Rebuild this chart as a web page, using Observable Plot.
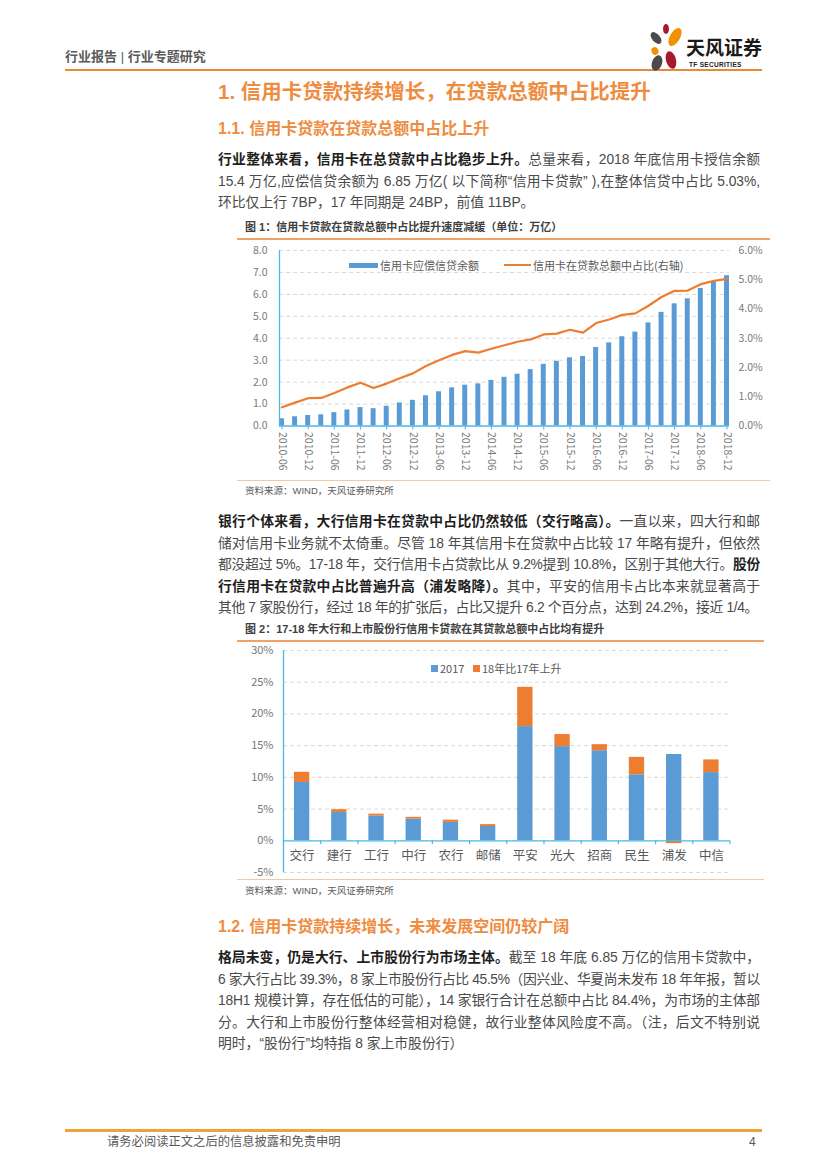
<!DOCTYPE html>
<html><head><meta charset="utf-8">
<script src="https://cdn.jsdelivr.net/npm/d3@7"></script>
<script src="https://cdn.jsdelivr.net/npm/@observablehq/plot@0.6"></script>
<style>
html,body{margin:0;padding:0;background:#fff;}
#page{position:relative;width:827px;height:1169px;overflow:hidden;font-family:"Liberation Sans","Noto Sans CJK SC",sans-serif;color:#4a4a4a;}
.abs{position:absolute;white-space:nowrap;}
.line{position:absolute;left:218px;width:542px;font-size:13.8px;line-height:20px;height:20px;text-align:justify;text-align-last:justify;}
.line.last{text-align:left;text-align-last:left;}
.line b{color:#1e1e1e;font-weight:bold;}
.h1{left:218px;font-size:20.5px;font-weight:bold;color:#EE8C3F;line-height:26px;}
.h2{left:218px;font-size:16px;font-weight:bold;color:#EE8C3F;line-height:22px;}
.cap{left:245px;font-size:11px;font-weight:bold;color:#404040;line-height:14px;}
.src{left:245px;font-size:9.5px;color:#595959;line-height:12px;}
.rule{position:absolute;}
.leg{font-size:11px;color:#595959;line-height:14px;font-family:"Noto Sans CJK SC",sans-serif;}
</style></head>
<body><div id="page">
  <div class="abs" style="left:65px;top:49px;font-size:13px;font-weight:bold;color:#5a5a5a;line-height:16px;">行业报告 <span style="font-weight:normal">|</span> 行业专题研究</div>
  <div class="rule" style="left:65px;top:69px;width:697px;height:2px;background:#E8893A;"></div>
  <svg class="abs" style="left:648px;top:24px" width="36" height="48" viewBox="0 0 36 48">
    <ellipse cx="18" cy="5" rx="3" ry="5" fill="#A8192E"/>
    <ellipse cx="27" cy="13" rx="5" ry="10" fill="#F39200" transform="rotate(30 27 13)"/>
    <ellipse cx="8" cy="14" rx="4" ry="7" fill="#4a4a4a" transform="rotate(-40 8 14)"/>
    <ellipse cx="7" cy="27" rx="3.5" ry="4" fill="#F39200" transform="rotate(-20 7 27)"/>
    <ellipse cx="9" cy="39" rx="5" ry="8" fill="#4a4a4a" transform="rotate(20 9 39)"/>
    <ellipse cx="23" cy="36" rx="5" ry="9" fill="#A8192E" transform="rotate(-15 23 36)"/>
  </svg>
  <div class="abs" style="left:686px;top:36px;font-size:19px;font-weight:bold;color:#1a1a1a;line-height:22px;font-family:'Noto Sans CJK SC',sans-serif;">天风证券</div>
  <div class="abs" style="left:689px;top:61px;font-size:6.5px;font-weight:bold;color:#222;line-height:8px;letter-spacing:0.3px;">TF SECURITIES</div>

  <div class="abs h1" style="top:79px;">1. 信用卡贷款持续增长，在贷款总额中占比提升</div>
  <div class="abs h2" style="top:118px;">1.1. 信用卡贷款在贷款总额中占比上升</div>

  <div class="line" style="top:150px"><span><b>行业整体来看，信用卡在总贷款中占比稳步上升。</b>总量来看，2018 年底信用卡授信余额</span></div>
  <div class="line" style="top:171.5px"><span>15.4 万亿,应偿信贷余额为 6.85 万亿( 以下简称“信用卡贷款” ),在整体信贷中占比 5.03%,</span></div>
  <div class="line last" style="top:193px"><span>环比仅上行 7BP，17 年同期是 24BP，前值 11BP。</span></div>

  <div class="abs cap" style="top:220px;">图 1：信用卡贷款在贷款总额中占比提升速度减缓（单位：万亿）</div>
  <div class="rule" style="left:237px;top:238px;width:533px;height:1.5px;background:#F0A266;"></div>
  <div id="chart1" class="abs" style="left:238px;top:240px;"></div>
  <div class="rule" style="left:237px;top:480px;width:533px;height:1px;background:#F6C8A2;"></div>
  <div class="abs src" style="top:485px;">资料来源：WIND，天风证券研究所</div>
  <div class="rule" style="left:349px;top:262.5px;width:29px;height:5.5px;background:#5B9BD5;"></div>
  <div class="abs leg" style="left:380px;top:258px;">信用卡应偿信贷余额</div>
  <div class="rule" style="left:504px;top:264px;width:27px;height:2px;background:#ED7D31;"></div>
  <div class="abs leg" style="left:533px;top:258px;">信用卡在贷款总额中占比(右轴)</div>

  <div class="line" style="top:512px"><span><b>银行个体来看，大行信用卡在贷款中占比仍然较低（交行略高）。</b>一直以来，四大行和邮</span></div>
  <div class="line" style="top:533.5px"><span>储对信用卡业务就不太倚重。尽管 18 年其信用卡在贷款中占比较 17 年略有提升，但依然</span></div>
  <div class="line" style="top:555px"><span>都没超过 5%。17-18 年，交行信用卡占贷款比从 9.2%提到 10.8%，区别于其他大行。<b>股份</b></span></div>
  <div class="line" style="top:576.5px"><span><b>行信用卡在贷款中占比普遍升高（浦发略降）。</b>其中，平安的信用卡占比本来就显著高于</span></div>
  <div class="line last" style="top:598px"><span>其他 7 家股份行，经过 18 年的扩张后，占比又提升 6.2 个百分点，达到 24.2%，接近 1/4。</span></div>

  <div class="abs cap" style="top:622px;">图 2：17-18 年大行和上市股份行信用卡贷款在其贷款总额中占比均有提升</div>
  <div class="rule" style="left:237px;top:640px;width:527px;height:1.5px;background:#F0A266;"></div>
  <div id="chart2" class="abs" style="left:238px;top:642px;"></div>
  <div class="rule" style="left:237px;top:879px;width:527px;height:1px;background:#F6C8A2;"></div>
  <div class="abs src" style="top:885px;">资料来源：WIND，天风证券研究所</div>
  <div class="rule" style="left:431px;top:664.5px;width:7px;height:7px;background:#5B9BD5;"></div>
  <div class="abs leg" style="left:440px;top:661px;">2017</div>
  <div class="rule" style="left:473px;top:664.5px;width:7px;height:7px;background:#ED7D31;"></div>
  <div class="abs leg" style="left:482px;top:661px;">18年比17年上升</div>

  <div class="abs h2" style="top:916px;">1.2. 信用卡贷款持续增长，未来发展空间仍较广阔</div>
  <div class="line" style="top:948px"><span><b>格局未变，仍是大行、上市股份行为市场主体。</b>截至 18 年底 6.85 万亿的信用卡贷款中，</span></div>
  <div class="line" style="top:969.5px"><span>6 家大行占比 39.3%，8 家上市股份行占比 45.5%（因兴业、华夏尚未发布 18 年年报，暂以</span></div>
  <div class="line" style="top:991px"><span>18H1 规模计算，存在低估的可能），14 家银行合计在总额中占比 84.4%，为市场的主体部</span></div>
  <div class="line" style="top:1012.5px"><span>分。大行和上市股份行整体经营相对稳健，故行业整体风险度不高。（注，后文不特别说</span></div>
  <div class="line last" style="top:1034px"><span>明时，“股份行”均特指 8 家上市股份行）</span></div>

  <div class="rule" style="left:65px;top:1128.5px;width:697px;height:3px;background:#EFA236;"></div>
  <div class="abs" style="left:107px;top:1135px;font-size:12.3px;color:#595959;line-height:15px;">请务必阅读正文之后的信息披露和免责申明</div>
  <div class="abs" style="left:749px;top:1135px;font-size:12px;color:#595959;line-height:15px;">4</div>
</div>
<script>
// ---- Figure 1 data ----
const periods = ["2010-06","2010-09","2010-12","2011-03","2011-06","2011-09","2011-12","2012-03","2012-06","2012-09","2012-12","2013-03","2013-06","2013-09","2013-12","2014-03","2014-06","2014-09","2014-12","2015-03","2015-06","2015-09","2015-12","2016-03","2016-06","2016-09","2016-12","2017-03","2017-06","2017-09","2017-12","2018-03","2018-06","2018-09","2018-12"];
const cardLoans = [0.33,0.42,0.48,0.51,0.61,0.73,0.84,0.79,0.90,1.05,1.17,1.38,1.56,1.74,1.86,1.92,2.08,2.22,2.36,2.57,2.81,2.95,3.11,3.17,3.58,3.79,4.07,4.28,4.70,5.18,5.57,5.80,6.27,6.57,6.85];
const cardShare = [0.64,0.80,0.95,0.96,1.13,1.32,1.48,1.30,1.45,1.63,1.80,2.05,2.25,2.43,2.56,2.51,2.64,2.76,2.88,2.96,3.13,3.16,3.29,3.19,3.52,3.64,3.80,3.85,4.11,4.41,4.62,4.63,4.85,4.96,5.03];
const leftTicks = [0,1,2,3,4,5,6,7,8];
const rightTicks = [0,1,2,3,4,5,6];
// ---- Figure 2 data ----
const banks = ["交行","建行","工行","中行","农行","邮储","平安","光大","招商","民生","浦发","中信"];
const share2017 = [9.2,4.45,3.9,3.4,2.9,2.25,18.0,14.85,14.2,10.4,13.6,10.75];
const change1817 = [1.6,0.45,0.3,0.3,0.35,0.3,6.2,1.9,0.95,2.75,-0.45,2.0];
const y2Ticks = [-5,0,5,10,15,20,25,30];

const cyan = "#4DB6E8", blue = "#5B9BD5", orange = "#ED7D31", grid = "#D9D9D9";
const font = '"Noto Sans CJK SC", sans-serif';

// Figure 1
const rows1 = periods.map((p, i) => ({i, p, loan: cardLoans[i], share: cardShare[i]}));
const ratio = leftTicks[leftTicks.length-1] / rightTicks[rightTicks.length-1];
const half1 = 0.19;
const xd1 = [-half1, periods.length - 1 + half1];
const labelIdx = rows1.filter(d => /-(06|12)$/.test(d.p)).map(d => d.i);
const chart1 = Plot.plot({
  width: 532, height: 238,
  marginLeft: 41, marginRight: 41, marginTop: 10, marginBottom: 52.5,
  x: {domain: xd1},
  y: {domain: [0, 8]},
  style: {fontFamily: font, fontSize: "10.5px", color: "#7a7a7a", background: "none", overflow: "visible"},
  marks: [
    Plot.gridY(leftTicks.slice(1), {stroke: grid, strokeOpacity: 1, strokeDasharray: "4,3"}),
    Plot.rect(rows1, {x1: d => d.i - half1, x2: d => d.i + half1, y1: 0, y2: "loan", fill: blue}),
    Plot.line(rows1, {x: "i", y: d => d.share * ratio, stroke: orange, strokeWidth: 2.2}),
    Plot.ruleX([xd1[0]], {y1: 0, y2: 8, stroke: cyan, strokeWidth: 1.3}),
    Plot.ruleY([0], {x1: xd1[0], x2: xd1[1], stroke: cyan, strokeWidth: 1.3}),
    Plot.axisY(leftTicks, {anchor: "left", tickSize: 0, tickPadding: 12, tickFormat: d => d.toFixed(1), label: null, fill: "#7a7a7a"}),
    Plot.axisY(rightTicks.map(v => v * ratio), {anchor: "right", tickSize: 0, tickPadding: 9, tickFormat: d => (d / ratio).toFixed(1) + "%", label: null, fill: "#7a7a7a"}),
    Plot.axisX(labelIdx, {anchor: "bottom", tickSize: 4, tickPadding: 2, tickRotate: 90, tickFormat: i => periods[i], label: null, stroke: cyan, fill: "#7a7a7a", fontSize: 10.5})
  ]
});
document.getElementById("chart1").append(chart1);

// Figure 2
const rows2 = banks.map((b, i) => ({i, b, base: share2017[i], ch: change1817[i]}));
const half2 = 0.206;
const xd2 = [-0.5, banks.length - 0.5];
const chart2 = Plot.plot({
  width: 532, height: 238,
  marginLeft: 45, marginRight: 40.5, marginTop: 8, marginBottom: 8,
  x: {domain: xd2, axis: null},
  y: {domain: [-5, 30]},
  style: {fontFamily: font, fontSize: "11px", color: "#767676", background: "none", overflow: "visible"},
  marks: [
    Plot.gridY(y2Ticks.filter(v => v !== 0), {stroke: grid, strokeOpacity: 1, strokeDasharray: "4,3"}),
    Plot.rect(rows2, {x1: d => d.i - half2, x2: d => d.i + half2, y1: 0, y2: "base", fill: blue}),
    Plot.rect(rows2, {x1: d => d.i - half2, x2: d => d.i + half2, y1: d => d.ch >= 0 ? d.base : 0, y2: d => d.ch >= 0 ? d.base + d.ch : d.ch, fill: orange}),
    Plot.ruleY([0], {x1: xd2[0], x2: xd2[1], stroke: cyan, strokeWidth: 1.3}),
    Plot.ruleX(d3.range(banks.length + 1).map(k => k - 0.5), {y1: 0, y2: -0.6, stroke: cyan, strokeWidth: 1.2}),
    Plot.ruleX([xd2[0]], {y1: -5, y2: 30, stroke: cyan, strokeWidth: 1.3}),
    Plot.axisY(y2Ticks, {anchor: "left", tickSize: 0, tickPadding: 10, tickFormat: d => d + "%", label: null, fill: "#767676"}),
    Plot.text(rows2, {x: "i", y: () => 0, text: "b", dy: 15, fill: "#595959", fontSize: 12.5})
  ]
});
document.getElementById("chart2").append(chart2);

// fit each text line into its width
function fitLines() {
  document.querySelectorAll(".line").forEach(el => {
    el.style.letterSpacing = "";
    const span = el.firstElementChild;
    el.style.whiteSpace = "nowrap";
    const w = span.getBoundingClientRect().width;
    el.style.whiteSpace = "";
    const target = 541;
    if (w > target) {
      const n = span.textContent.length;
      el.style.letterSpacing = ((target - w) / n - 0.02) + "px";
    }
  });
}
fitLines();
if (document.fonts && document.fonts.ready) document.fonts.ready.then(fitLines);
</script>
</body></html>
